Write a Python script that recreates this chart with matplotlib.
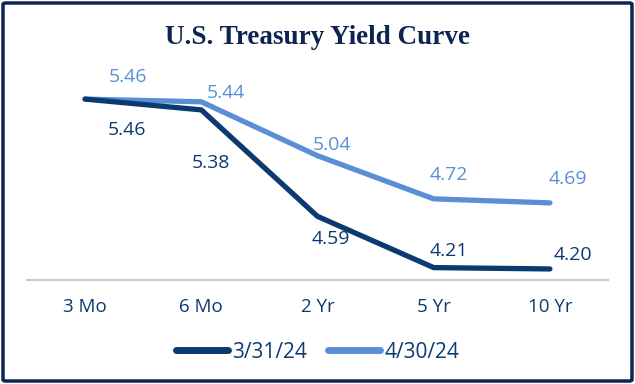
import matplotlib.pyplot as plt
from matplotlib.patches import FancyBboxPatch

tenors = ["3 Mo", "6 Mo", "2 Yr", "5 Yr", "10 Yr"]
yields_mar = [5.46, 5.38, 4.59, 4.21, 4.20]
yields_apr = [5.46, 5.44, 5.04, 4.72, 4.69]
series_names = ["3/31/24", "4/30/24"]

dark = "#0b3a70"
light = "#5a8fd5"
navy = "#0d2352"

plt.rcParams['font.family'] = ['Open Sans', 'DejaVu Sans']

fig = plt.figure(figsize=(6.35, 3.84), dpi=100)
ax = fig.add_axes([27 / 635, 1 - 280 / 384, 581 / 635, 220 / 384])

x = list(range(len(tenors)))
ax.plot(x, yields_mar, color=dark, lw=3.8, solid_capstyle='round', solid_joinstyle='round',
        label=series_names[0], zorder=3)
ax.plot(x, yields_apr, color=light, lw=3.8, solid_capstyle='round', solid_joinstyle='round',
        label=series_names[1], zorder=2)

# label offsets in pixels (dx, dy)
apr_off = [(43, 22), (25, 9), (14, 11), (15, 24), (18, 24)]
mar_off = [(42, -31), (10, -53), (13, -23), (15, 17), (23, 14)]
for i in x:
    ax.annotate(f"{yields_apr[i]:.2f}", (i, yields_apr[i]), xytext=apr_off[i],
                textcoords='offset pixels', ha='center', va='center',
                color=light, fontsize=14)
    ax.annotate(f"{yields_mar[i]:.2f}", (i, yields_mar[i]), xytext=mar_off[i],
                textcoords='offset pixels', ha='center', va='center',
                color=dark, fontsize=14)

ax.set_xlim(-0.5, 4.5)
ax.set_ylim(4.118, 5.75)
ax.set_xticks(x)
ax.set_xticklabels(tenors, color=dark, fontsize=13.5)
ax.tick_params(axis='x', length=0, pad=13)
ax.set_yticks([])
for s in ['top', 'right', 'left']:
    ax.spines[s].set_visible(False)
ax.spines['bottom'].set_color('#c8c8c8')
ax.spines['bottom'].set_linewidth(1.5)

fig.text(0.5, 1 - 38 / 384, "U.S. Treasury Yield Curve", ha='center', va='center',
         family='Liberation Serif', fontweight='bold', fontsize=19.5, color=navy)

leg = fig.legend(loc='center', bbox_to_anchor=(0.5, 1 - 352 / 384), ncol=2, frameon=False,
                 fontsize=15, handlelength=2.5, handletextpad=0.2, columnspacing=1.0,
                 labelcolor=dark)
for line in leg.get_lines():
    line.set_linewidth(5)
    line.set_solid_capstyle('round')

border = FancyBboxPatch((3 / 635, 3 / 384), 629 / 635, 378 / 384,
                        boxstyle="round,pad=0,rounding_size=0.004",
                        transform=fig.transFigure, fill=False, edgecolor=navy, lw=2.5)
fig.patches.append(border)

plt.savefig('out.png', dpi=100)
